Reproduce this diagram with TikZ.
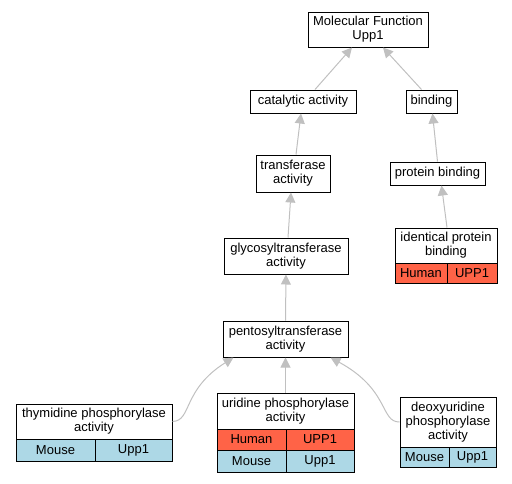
\documentclass[tikz,border=0pt]{standalone}
\usepackage{fontspec}
\setmainfont{Liberation Sans}
\usetikzlibrary{arrows.meta}
\definecolor{humanred}{HTML}{FF6347}
\definecolor{mouseblue}{HTML}{ADD8E6}
\definecolor{edgegray}{HTML}{C0C0C0}
\begin{document}
\begin{tikzpicture}[x=1pt,y=-1pt,
    term/.style={draw,fill=white,line width=1pt,align=center,inner sep=0pt,
      font=\fontsize{13}{13.8}\selectfont},
    human/.style={term,fill=humanred},
    mouse/.style={term,fill=mouseblue},
    isa/.style={draw=edgegray,line width=1pt,-{Triangle[length=10pt,width=10pt,fill=edgegray]}}]
  \useasboundingbox (0,0) rectangle (512,483);

  % terms
  \node[term,minimum width=120pt,minimum height=35pt] (mf) at (368,29.5) {Molecular Function\\Upp1};
  \node[term,minimum width=106pt,minimum height=23pt] (cat) at (303,101.5) {catalytic activity};
  \node[term,minimum width=51pt,minimum height=23pt] (bind) at (431.5,101.5) {binding};
  \node[term,minimum width=74pt,minimum height=37pt] (trans) at (293,173.5) {transferase\\activity};
  \node[term,minimum width=95pt,minimum height=23pt] (prot) at (437.5,173.5) {protein binding};
  \node[term,minimum width=124pt,minimum height=36pt] (glyco) at (286,256) {glycosyltransferase\\activity};
  \node[term,minimum width=125pt,minimum height=36pt] (pento) at (285.5,339) {pentosyltransferase\\activity};

  % terms with annotations
  \node[term,minimum width=102pt,minimum height=35pt] (ident) at (446,245.5) {identical protein\\binding};
  \node[human,minimum width=52pt,minimum height=20pt] (idenths) at (421,273) {Human};
  \node[human,minimum width=50pt,minimum height=20pt] (identhsg) at (472,273) {UPP1};

  \node[term,minimum width=156pt,minimum height=35pt] (thym) at (94,421.5) {thymidine phosphorylase\\activity};
  \node[mouse,minimum width=79pt,minimum height=22pt] (thymmm) at (55.5,450) {Mouse};
  \node[mouse,minimum width=77pt,minimum height=22pt] (thymmmg) at (133.5,450) {Upp1};

  \node[term,minimum width=137pt,minimum height=36pt] (urid) at (285.5,411) {uridine phosphorylase\\activity};
  \node[human,minimum width=69pt,minimum height=21pt] (uridhs) at (251.5,439.5) {Human};
  \node[human,minimum width=68pt,minimum height=21pt] (uridhsg) at (320,439.5) {UPP1};
  \node[mouse,minimum width=69pt,minimum height=22pt] (uridmm) at (251.5,461) {Mouse};
  \node[mouse,minimum width=68pt,minimum height=22pt] (uridmmg) at (320,461) {Upp1};

  \node[term,minimum width=96pt,minimum height=50pt] (deoxy) at (448,422) {deoxyuridine\\phosphorylase\\activity};
  \node[mouse,minimum width=49pt,minimum height=20pt] (deoxymm) at (424.5,457) {Mouse};
  \node[mouse,minimum width=47pt,minimum height=20pt] (deoxymmg) at (472.5,457) {Upp1};

  % is_a edges
  \draw[isa] ([xshift=12pt]cat.north) -- ([xshift=-16pt]mf.south);
  \draw[isa] ([xshift=-10pt]bind.north) -- ([xshift=15pt]mf.south);
  \draw[isa] ([xshift=3pt]trans.north) -- ([xshift=-2pt]cat.south);
  \draw[isa] (prot.north) -- ([xshift=1pt]bind.south);
  \draw[isa] ([xshift=2pt]glyco.north) -- ([xshift=-2pt]trans.south);
  \draw[isa] ([xshift=1pt]ident.north) -- ([xshift=4pt]prot.south);
  \draw[isa] (pento.north) -- (glyco.south);
  \draw[isa] (urid.north) -- (pento.south);
  \draw[isa] (thym.east) .. controls (192,421) and (182,390) .. ([xshift=-52pt]pento.south);
  \draw[isa] (deoxy.west) .. controls (380,422) and (390,390) .. ([xshift=45pt]pento.south);
\end{tikzpicture}
\end{document}
